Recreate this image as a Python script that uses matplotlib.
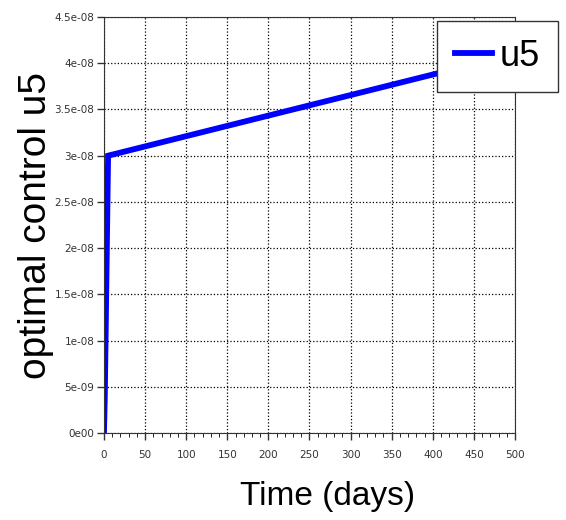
import numpy as np
import matplotlib.pyplot as plt
from matplotlib.ticker import MultipleLocator

plt.rcParams['font.family'] = ['Liberation Sans', 'DejaVu Sans']

t = [0, 1, 5, 500]                       # days
u5 = [0.0, 0.4e-08, 3.0e-08, 4.1e-08]    # optimal control u5

xticks = [0, 50, 100, 150, 200, 250, 300, 350, 400, 450, 500]
yticks = [0, 5e-09, 1e-08, 1.5e-08, 2e-08, 2.5e-08, 3e-08, 3.5e-08, 4e-08, 4.5e-08]
ylabels = ['0e00', '5e-09', '1e-08', '1.5e-08', '2e-08', '2.5e-08',
           '3e-08', '3.5e-08', '4e-08', '4.5e-08']

fig = plt.figure(figsize=(5.66, 5.2), dpi=100)
ax = fig.add_axes([0.1837, 0.1673, 0.7262, 0.80])

ax.plot(t, u5, c=(0, 0, 1), lw=4.2, label='u5', solid_joinstyle='miter')

ax.set_xlim(0, 500)
ax.set_ylim(0, 4.5e-08)
ax.set_xticks(xticks)
ax.set_xticklabels([str(x) for x in xticks], family='DejaVu Sans')
ax.set_yticks(yticks)
ax.set_yticklabels(ylabels, family='DejaVu Sans')
ax.xaxis.set_minor_locator(MultipleLocator(10))
ax.tick_params(labelsize=7.5, colors='#333333', length=5, width=1)
ax.tick_params(axis='x', pad=7)
ax.tick_params(axis='y', pad=2)
ax.tick_params(which='minor', length=3)
ax.grid(True, which='major', ls=':', c='black', lw=0.9)
for sp in ax.spines.values():
    sp.set_color('#333333')

ax.set_xlabel('Time (days)', fontsize=24)
ax.xaxis.set_label_coords(0.545, -0.115)
ax.set_ylabel('optimal control u5', fontsize=28, labelpad=0)

leg = ax.legend(loc='upper right', bbox_to_anchor=(558 / 566, 1 - 21 / 520),
                bbox_transform=fig.transFigure, borderaxespad=0, fontsize=26,
                handlelength=1.05, handletextpad=0.2, borderpad=0.5,
                fancybox=False, framealpha=1, edgecolor='#333333')
leg.get_frame().set_linewidth(1)

plt.savefig('out.png', dpi=100)
